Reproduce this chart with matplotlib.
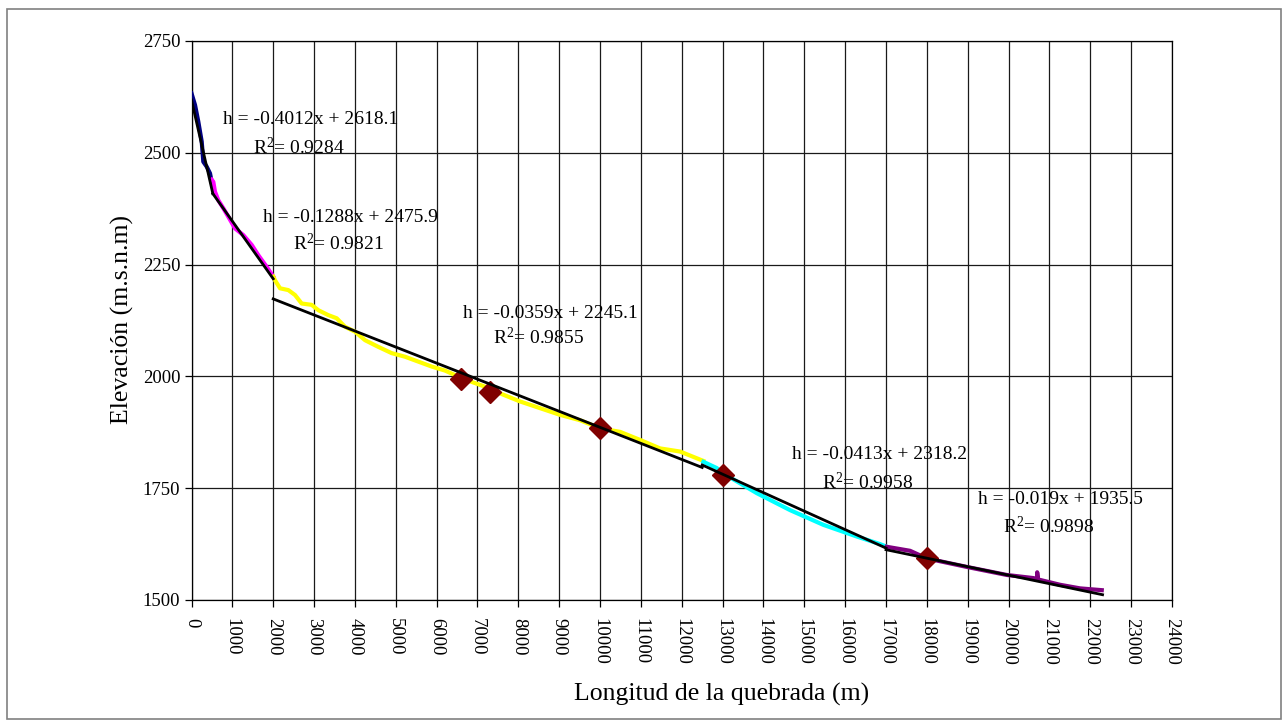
import matplotlib
matplotlib.use("Agg")
import matplotlib.pyplot as plt
from matplotlib.patches import Rectangle

# ---------------- data ----------------
# river profile segments (distance m, elevation m.s.n.m)
seg1_x = [0, 86, 166, 250, 289, 372, 453, 494]
seg1_h = [2633, 2607, 2570, 2525, 2480, 2469, 2454, 2435]

seg2_x = [494, 534, 575, 656, 779, 901, 1065, 1268, 1474, 1636, 1840, 2003]
seg2_h = [2440, 2435, 2413, 2394, 2376, 2357, 2331, 2316, 2294, 2271, 2245, 2223]

seg3_x = [2003, 2044, 2167, 2370, 2534, 2697, 2942, 3105, 3349, 3554, 3758, 4002,
          4247, 4573, 4900, 5226, 5553, 5880, 6206, 6450, 6695, 6940, 7185, 7552,
          8041, 8531, 9021, 9510, 10000, 10490, 10979, 11469, 11958, 12285, 12530]
seg3_h = [2223, 2215, 2197, 2193, 2182, 2163, 2160, 2148, 2137, 2130, 2111, 2100,
          2081, 2066, 2052, 2044, 2033, 2022, 2013, 2003, 1993, 1985, 1977, 1962,
          1944, 1929, 1914, 1902, 1884, 1876, 1858, 1839, 1832, 1820, 1811]

seg4_x = [12530, 12857, 13018, 13835, 14651, 15467, 16284, 16854, 17017]
seg4_h = [1809, 1795, 1783, 1739, 1701, 1668, 1642, 1625, 1619]

seg5_x = [17017, 17589, 17997, 18976, 19955, 20607, 20700, 20700, 20720, 21261, 21750, 22281]
seg5_h = [1619, 1610, 1593, 1574, 1556, 1549, 1547, 1562, 1546, 1534, 1526, 1522]

seg_x = [seg1_x, seg2_x, seg3_x, seg4_x, seg5_x]
seg_h = [seg1_h, seg2_h, seg3_h, seg4_h, seg5_h]
seg_colors = ["#000080", "#FF00FF", "#FFFF00", "#00FFFF", "#800080"]

# linear trend lines: slope, intercept, x-range
trend_slope = [-0.4012, -0.1288, -0.0359, -0.0413, -0.019]
trend_icpt = [2618.1, 2475.9, 2245.1, 2318.2, 1935.5]
trend_r2 = ["0.9284", "0.9821", "0.9855", "0.9958", "0.9898"]
trend_x0 = [0, 522, 2000, 12500, 17000]
trend_x1 = [522, 2000, 12500, 17000, 22300]

# highlighted points (diamonds)
pt_x = [6600, 7300, 10000, 13000, 18000]
pt_h = [1995, 1964, 1884, 1779, 1593]

x_ticks = list(range(0, 24001, 1000))
y_ticks = [1500, 1750, 2000, 2250, 2500, 2750]

# ---------------- figure ----------------
W, H = 1288, 726
plt.rcParams['font.family'] = ['Liberation Serif', 'DejaVu Serif']
plt.rcParams['mathtext.fontset'] = 'custom'
plt.rcParams['mathtext.rm'] = 'Liberation Serif'
plt.rcParams['mathtext.it'] = 'Liberation Serif:italic'
plt.rcParams['mathtext.default'] = 'regular'
fig = plt.figure(figsize=(W / 100, H / 100), dpi=100)

def px(x, y):
    return x / W, 1 - y / H

ax_l, ax_r, ax_t, ax_b = 191.5, 1172, 41, 600
ax = fig.add_axes([ax_l / W, 1 - ax_b / H, (ax_r - ax_l) / W, (ax_b - ax_t) / H])

ax.set_xlim(0, 24000)
ax.set_ylim(1500, 2750)
ax.set_xticks(x_ticks)
ax.set_yticks(y_ticks)
ax.set_xticklabels([str(t) for t in x_ticks], rotation=-90, fontsize=13.5)
ax.set_yticklabels([str(t) for t in y_ticks], fontsize=13.5)
ax.tick_params(axis='both', direction='out', length=5, width=0.9, color='black')
ax.tick_params(axis='x', pad=8)
ax.tick_params(axis='y', pad=3)
ax.grid(True, color='#1a1a1a', linewidth=0.9)
ax.set_axisbelow(True)
for s in ax.spines.values():
    s.set_color('black')
    s.set_linewidth(0.9)

# profile
for xs, hs, c in zip(seg_x, seg_h, seg_colors):
    ax.plot(xs, hs, color=c, linewidth=3.0, solid_joinstyle='round', zorder=3)

# diamonds
ax.plot(pt_x, pt_h, linestyle='none', marker='D', markersize=11,
        color='#800000', zorder=4)

# trend lines
for m, b, x0, x1 in zip(trend_slope, trend_icpt, trend_x0, trend_x1):
    ax.plot([x0, x1], [m * x0 + b, m * x1 + b], color='black', linewidth=2.0, zorder=5)

# equation labels (left x of each line, y centers in pixels)
lab_pos = [(223, 120, 253, 147), (263, 218, 293, 243), (463, 313, 493, 338),
           (792, 455, 822, 482), (978, 500, 1003, 526)]
for (x1p, y1p, x2p, y2p), m, b, r2 in zip(lab_pos, trend_slope, trend_icpt, trend_r2):
    eq = "h = %sx + %s" % (("%g" % m), ("%g" % b))
    fig.text(*px(x1p, y1p), eq, fontsize=14, ha='left', va='center', zorder=6)
    fig.text(*px(x2p, y2p), "R$^{2}$= " + r2, fontsize=14, ha='left', va='center', zorder=6)

# axis labels
fig.text(*px(722, 694), "Longitud de la quebrada (m)", fontsize=18.5, ha='center', va='center')
fig.text(*px(122, 320), "Elevación (m.s.n.m)", fontsize=18.5, ha='center', va='center',
         rotation=90)

# outer border
fig.patches.append(Rectangle(px(7, 719), (1281 - 7) / W, (719 - 9) / H,
                             transform=fig.transFigure, fill=False,
                             edgecolor='#808080', linewidth=1.2))

fig.savefig("out.png", dpi=100)
